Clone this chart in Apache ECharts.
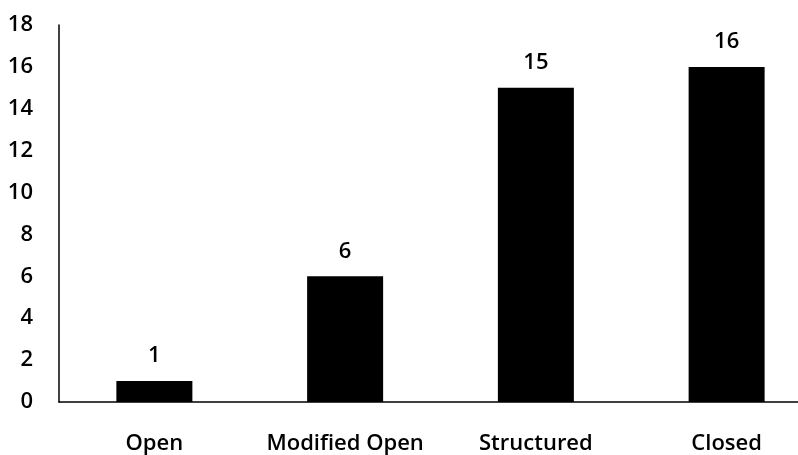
<!DOCTYPE html>
<html>
<head>
<meta charset="utf-8">
<script src="https://cdn.jsdelivr.net/npm/echarts@6/dist/echarts.min.js"></script>
<style>
html,body{margin:0;padding:0;background:#fff;overflow:hidden;width:798px;height:455px;}
#chart{width:822px;height:455px;}
</style>
</head>
<body>
<div id="chart"></div>
<script>
const categories = ["Open", "Modified Open", "Structured", "Closed"];
const values = [1, 6, 15, 16];
const yMin = 0, yMax = 18, yInterval = 2;

const font = "'Open Sans', 'Noto Sans', sans-serif";
const chart = echarts.init(document.getElementById('chart'), null, {renderer: 'canvas'});
chart.setOption({
  animation: false,
  backgroundColor: '#ffffff',
  grid: {left: 59, right: 0, top: 25, bottom: 52, containLabel: false},
  xAxis: {
    type: 'category',
    data: categories,
    boundaryGap: true,
    axisLine: {show: true, lineStyle: {color: '#000', width: 1.5}},
    axisTick: {show: false},
    axisLabel: {interval: 0, color: '#000', fontFamily: font, fontSize: 22, fontWeight: 600, margin: 31}
  },
  yAxis: {
    type: 'value',
    min: yMin, max: yMax, interval: yInterval,
    axisLine: {show: true, lineStyle: {color: '#000', width: 1.5}},
    axisTick: {show: false},
    splitLine: {show: false},
    axisLabel: {color: '#000', fontFamily: font, fontSize: 22, fontWeight: 600, margin: 26}
  },
  series: [{
    type: 'bar',
    data: values,
    barWidth: 76,
    itemStyle: {color: '#000'},
    label: {show: true, position: 'top', distance: 14, color: '#000', fontFamily: font, fontSize: 22, fontWeight: 600}
  }]
});
</script>
</body>
</html>
